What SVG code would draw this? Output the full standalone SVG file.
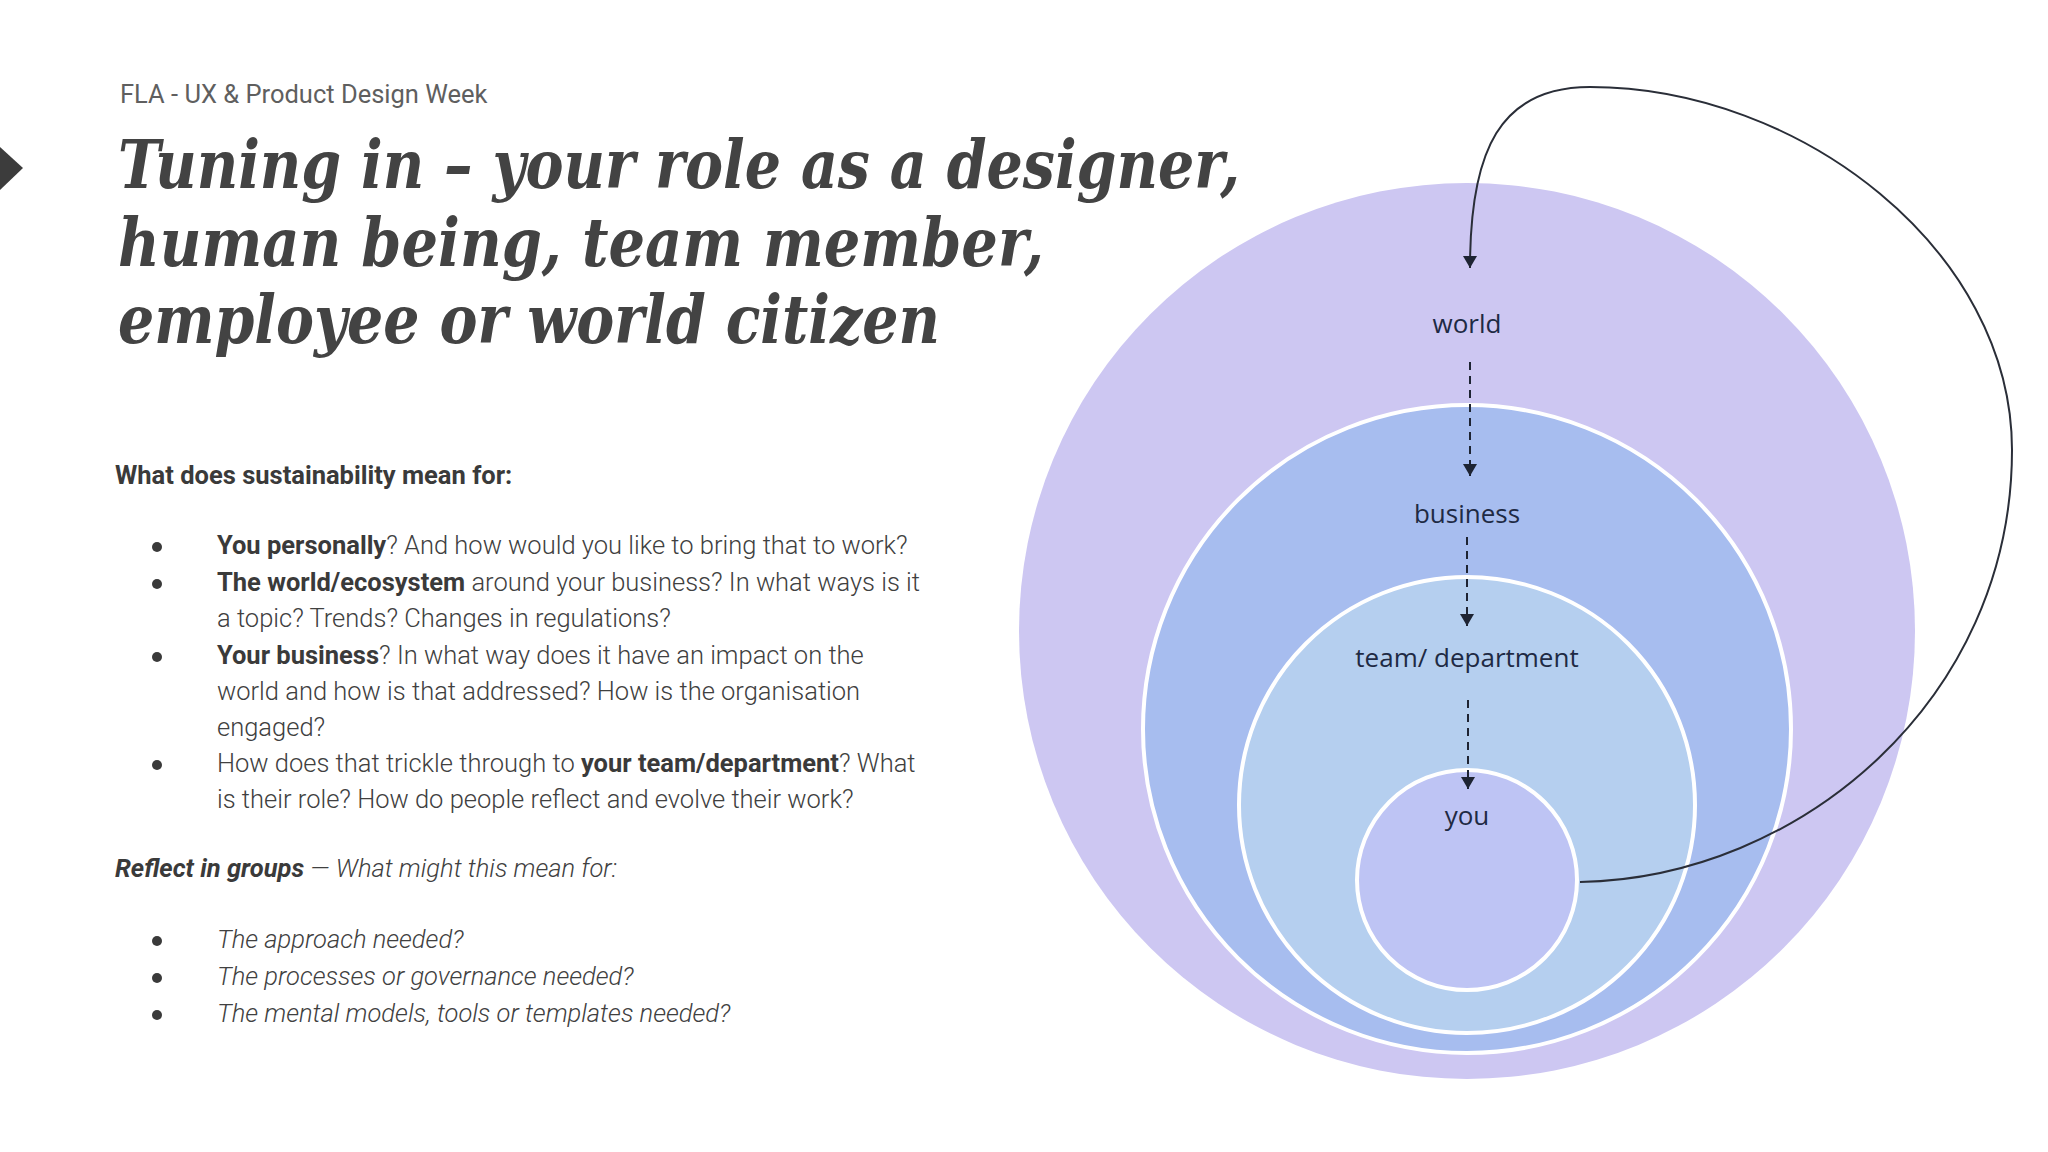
<svg xmlns="http://www.w3.org/2000/svg" width="2048" height="1152" viewBox="0 0 2048 1152">
<defs>
<style>
.hdr{font-family:Roboto,"Liberation Sans",sans-serif;font-size:25.5px;fill:#5f5f5f;font-weight:400}
.ttl{font-family:"DejaVu Serif","Liberation Serif",serif;font-style:italic;font-weight:700;font-size:67px;fill:#434343}
.body{font-family:Roboto,"Liberation Sans",sans-serif;font-size:25.5px;fill:#404040;font-weight:300}
.b{font-weight:700;fill:#3a3a3a}
.it{font-style:italic}
.lbl{font-family:"Open Sans","Noto Sans",sans-serif;font-size:26px;fill:#1e2a44;text-anchor:middle}
.dash{fill:none;stroke:#1e2433;stroke-width:2;stroke-dasharray:8 6}
.curve{fill:none;stroke:#2a2e38;stroke-width:2}
.ring{stroke:#ffffff;stroke-width:4}
</style>
<marker id="ah" viewBox="0 0 12 14" refX="12" refY="7" markerWidth="12" markerHeight="14" markerUnits="userSpaceOnUse" orient="auto">
<path d="M0,0 L12,7 L0,14 Z" fill="#1e2433"/>
</marker>
</defs>
<rect width="2048" height="1152" fill="#ffffff"/>
<polygon points="0,147 23,168 0,190" fill="#3c3c3c"/>
<text class="hdr" x="120" y="103">FLA - UX &amp; Product Design Week</text>
<g id="title">
<text class="ttl" x="118" y="188" textLength="1122" lengthAdjust="spacingAndGlyphs">Tuning in – your role as a designer,</text>
<text class="ttl" x="118" y="266" textLength="926" lengthAdjust="spacingAndGlyphs">human being, team member,</text>
<text class="ttl" x="118" y="343" textLength="822" lengthAdjust="spacingAndGlyphs">employee or world citizen</text>
</g>
<g id="questions">
<text class="body b" x="115" y="484">What does sustainability mean for:</text>
<g fill="#3a3a3a">
<circle cx="157" cy="547" r="5"/>
<circle cx="157" cy="584" r="5"/>
<circle cx="157" cy="657" r="5"/>
<circle cx="157" cy="765" r="5"/>
<circle cx="157" cy="941" r="5"/>
<circle cx="157" cy="978" r="5"/>
<circle cx="157" cy="1015" r="5"/>
</g>
<text class="body" x="217" y="554"><tspan class="b">You personally</tspan>? And how would you like to bring that to work?</text>
<text class="body" x="217" y="591"><tspan class="b">The world/ecosystem</tspan> around your business? In what ways is it</text>
<text class="body" x="217" y="627">a topic? Trends? Changes in regulations?</text>
<text class="body" x="217" y="664"><tspan class="b">Your business</tspan>? In what way does it have an impact on the</text>
<text class="body" x="217" y="700">world and how is that addressed? How is the organisation</text>
<text class="body" x="217" y="736">engaged?</text>
<text class="body" x="217" y="772">How does that trickle through to <tspan class="b">your team/department</tspan>? What</text>
<text class="body" x="217" y="808">is their role? How do people reflect and evolve their work?</text>
<text class="body it" x="115" y="877"><tspan class="b">Reflect in groups</tspan> — What might this mean for:</text>
<text class="body it" x="217" y="948">The approach needed?</text>
<text class="body it" x="217" y="985">The processes or governance needed?</text>
<text class="body it" x="217" y="1022">The mental models, tools or templates needed?</text>
</g>
<g id="world"><circle cx="1467" cy="631" r="448" fill="#cdc7f2"/><text class="lbl" x="1467" y="333">world</text></g>
<g id="business"><circle class="ring" cx="1467" cy="729" r="324" fill="#a7bdef"/><text class="lbl" x="1467" y="523">business</text></g>
<g id="team"><circle class="ring" cx="1467" cy="805" r="228" fill="#b5cfef"/><text class="lbl" x="1467" y="667">team/ department</text></g>
<g id="you"><circle class="ring" cx="1467" cy="880" r="110" fill="#bec4f4"/><text class="lbl" x="1467" y="825">you</text></g>
<g id="connectors">
<path class="curve" d="M1580,882 C1800,878 2012,700 2012,450 C2012,250 1800,87 1590,87 C1500,87 1470,150 1470,268" marker-end="url(#ah)"/>
<path class="dash" d="M1470,362 L1470,476" marker-end="url(#ah)"/>
<path class="dash" d="M1467,537 L1467,626" marker-end="url(#ah)"/>
<path class="dash" d="M1468,700 L1468,789" marker-end="url(#ah)"/>
</g>
</svg>
